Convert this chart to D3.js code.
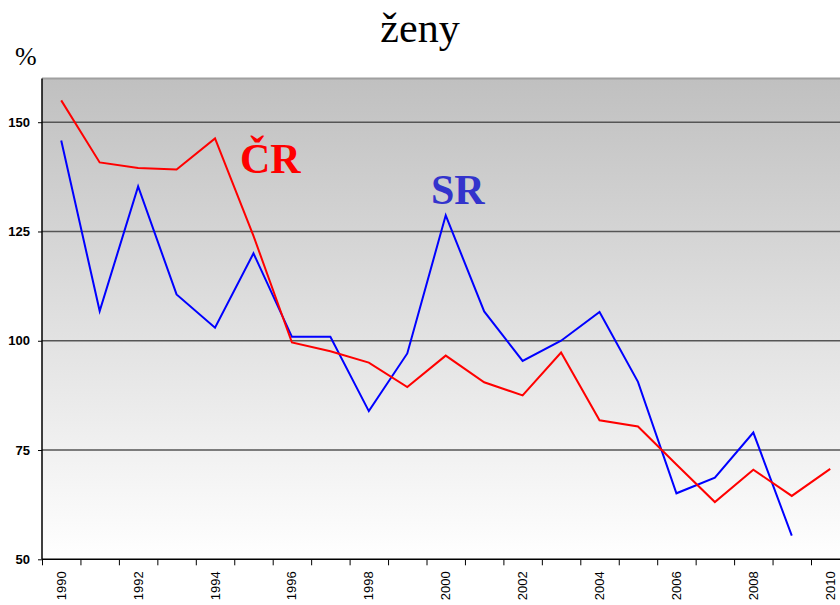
<!DOCTYPE html>
<html>
<head>
<meta charset="utf-8">
<script src="https://cdn.jsdelivr.net/npm/d3@7"></script>
<style>
  body { margin: 0; background: #fff; }
  svg { display: block; }
</style>
</head>
<body>
<div id="chart"></div>
<script>
// Data
const years = d3.range(1990, 2011);
const cr = [155.0, 140.8, 139.5, 139.2, 146.3, 124.0, 99.6, 97.6, 95.0, 89.4, 96.6,
            90.5, 87.5, 97.3, 81.8, 80.4, 71.7, 63.1, 70.5, 64.5, 70.7];
const sr = [145.8, 106.8, 135.3, 110.6, 103.0, 120.0, 100.9, 100.9, 83.9, 97.1, 128.7,
            106.7, 95.4, 100.0, 106.6, 90.6, 65.1, 68.7, 79.0, 55.4];
const yTicks = [50, 75, 100, 125, 150];

const W = 840, H = 605;
const plotLeft = 42, plotTop = 78.5, plotBottom = 559.3;
const plotRight = plotLeft + 21 * 38.45; // plot runs past the window edge, as in the original

const svg = d3.select('#chart').append('svg')
    .attr('width', W)
    .attr('height', H);

const x = d3.scaleBand().domain(years).range([plotLeft, plotRight]).padding(0);
const xEdge = d3.scaleLinear().domain([0, years.length]).range([plotLeft, plotRight]);
const y = d3.scaleLinear().domain([50, 160]).range([plotBottom, plotTop]);
const cx = d => x(d) + x.bandwidth() / 2;

// Plot background gradient
const grad = svg.append('defs').append('linearGradient')
    .attr('id', 'bg').attr('x1', 0).attr('y1', 0).attr('x2', 0).attr('y2', 1);
grad.append('stop').attr('offset', '0%').attr('stop-color', '#c0c0c0');
grad.append('stop').attr('offset', '100%').attr('stop-color', '#ffffff');

svg.append('rect')
    .attr('x', plotLeft).attr('y', plotTop)
    .attr('width', plotRight - plotLeft).attr('height', plotBottom - plotTop)
    .attr('fill', 'url(#bg)');

svg.append('line')
    .attr('x1', plotLeft).attr('x2', plotRight)
    .attr('y1', plotTop).attr('y2', plotTop)
    .attr('stroke', '#a0a0a0').attr('stroke-width', 2);

// Gridlines
svg.append('g')
    .selectAll('line')
    .data(yTicks.slice(1))
    .enter()
    .append('line')
    .attr('x1', plotLeft).attr('x2', plotRight)
    .attr('y1', d => y(d)).attr('y2', d => y(d))
    .attr('stroke', '#555').attr('stroke-width', 1.5);

// Y axis
const yAxis = svg.append('g')
    .attr('transform', `translate(${plotLeft},0)`)
    .call(d3.axisLeft(y).tickValues(yTicks).tickSize(4).tickPadding(8));
yAxis.selectAll('text')
    .style('font-family', '"Liberation Sans", Arial, sans-serif')
    .style('font-size', '13px')
    .style('font-weight', 'bold')
    .attr('fill', '#000');

// X axis: ticks on category edges, labels on even years
const xAxis = svg.append('g')
    .attr('transform', `translate(0,${plotBottom})`)
    .call(d3.axisBottom(xEdge).tickValues(d3.range(0, years.length + 1)).tickSize(6).tickFormat(''));

const xLabels = svg.append('g')
    .attr('transform', `translate(0,${plotBottom})`)
    .call(d3.axisBottom(x).tickSize(0).tickFormat(d => d % 2 === 0 ? d : ''));
xLabels.select('.domain').remove();
xLabels.selectAll('text')
    .attr('transform', 'rotate(-90)')
    .attr('x', -12)
    .attr('y', 0)
    .attr('dy', '0.35em')
    .style('text-anchor', 'end')
    .style('font-family', '"Liberation Sans", Arial, sans-serif')
    .style('font-size', '13px')
    .attr('fill', '#000');

svg.selectAll('.domain, .tick line').attr('stroke', '#000');
yAxis.select('.domain').attr('d', `M0,${plotTop}V${plotBottom}`).attr('stroke-width', 1.5);
xAxis.select('.domain').attr('d', `M${plotLeft},0H${plotRight}`).attr('stroke-width', 1.5);

// Lines
const line = d3.line()
    .x((d, i) => cx(years[i]))
    .y(d => y(d));

svg.append('path')
    .datum(sr)
    .attr('d', line)
    .attr('fill', 'none')
    .attr('stroke', '#0000ff')
    .attr('stroke-width', 2);

svg.append('path')
    .datum(cr)
    .attr('d', line)
    .attr('fill', 'none')
    .attr('stroke', '#ff0000')
    .attr('stroke-width', 2);

// Labels
svg.append('text')
    .attr('x', 420).attr('y', 42)
    .attr('text-anchor', 'middle')
    .style('font-family', '"Liberation Serif", "Times New Roman", serif')
    .style('font-size', '42px')
    .text('ženy');

svg.append('text')
    .attr('x', 15).attr('y', 65)
    .style('font-family', '"Liberation Serif", "Times New Roman", serif')
    .style('font-size', '26px')
    .text('%');

svg.append('text')
    .attr('x', 240).attr('y', 173)
    .attr('fill', '#ff0000')
    .style('font-family', '"Liberation Serif", "Times New Roman", serif')
    .style('font-size', '42px')
    .style('font-weight', 'bold')
    .text('ČR');

svg.append('text')
    .attr('x', 431).attr('y', 204)
    .attr('fill', '#3333cc')
    .style('font-family', '"Liberation Serif", "Times New Roman", serif')
    .style('font-size', '42px')
    .style('font-weight', 'bold')
    .text('SR');
</script>
</body>
</html>
